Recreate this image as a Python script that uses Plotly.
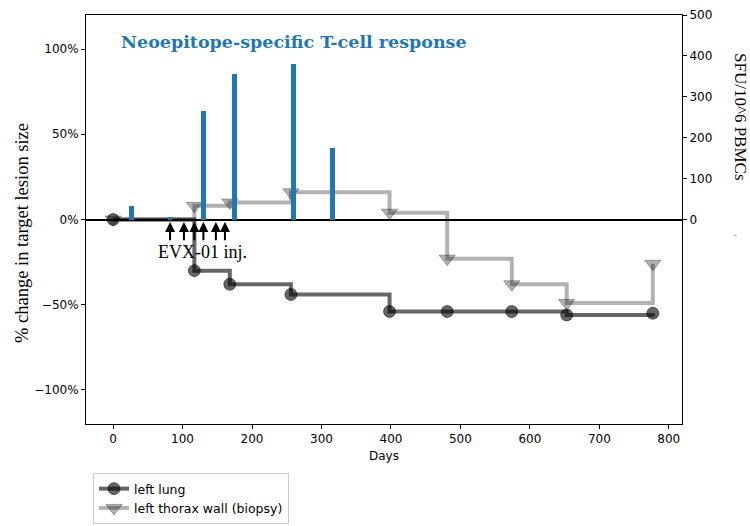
import plotly.graph_objects as go

# ---- data ----
days = [0, 117, 168, 256, 398, 481, 574, 653, 777]
left_lung = [0, -30, -38, -44, -54, -54, -54, -56, -55]
thorax_wall = [0, 8, 10, 16, 4, -23, -38, -49, -26]

sfu_days = [26, 82, 130, 175, 260, 316]
sfu_values = [34, 6, 266, 356, 380, 176]

injection_days = [82, 102, 117, 130, 148, 161]

left_ticks = [-100, -50, 0, 50, 100]
left_tick_labels = ["\u2212100%", "\u221250%", "0%", "50%", "100%"]
right_ticks = [0, 100, 200, 300, 400, 500]
x_ticks = [0, 100, 200, 300, 400, 500, 600, 700, 800]

W, H = 750, 526
L, R, T, B = 86, 68, 15, 102
PW, PH = W - L - R, H - B - T


def px(xpix):
    return (xpix - L) / PW


def py(ypix):
    return (H - B - ypix) / PH


fig = go.Figure()

fig.add_trace(go.Scatter(
    x=days, y=left_lung, name="left lung", mode="lines+markers",
    line=dict(shape="hv", color="rgba(0,0,0,0.6)", width=4),
    marker=dict(symbol="circle", size=12, color="rgba(0,0,0,0.6)",
                line=dict(color="rgba(0,0,0,0.5)", width=1)),
    yaxis="y"))
fig.add_trace(go.Scatter(
    x=days, y=thorax_wall, name="left thorax wall (biopsy)", mode="lines+markers",
    line=dict(shape="hv", color="rgba(0,0,0,0.3)", width=4),
    marker=dict(symbol="triangle-down", size=14, color="rgba(0,0,0,0.3)",
                line=dict(color="rgba(0,0,0,0.3)", width=1)),
    yaxis="y"))
fig.add_trace(go.Bar(
    x=sfu_days, y=sfu_values, width=7, marker=dict(color="#1f77b4", line=dict(width=0)),
    yaxis="y2", showlegend=False))

# injection arrows
for d in injection_days:
    fig.add_annotation(x=d, y=-1.5, ax=d, ay=-13, xref="x", yref="y",
                       axref="x", ayref="y", showarrow=True, arrowhead=2,
                       arrowsize=1, arrowwidth=2, arrowcolor="black", text="")
fig.add_annotation(x=129, y=-19, xref="x", yref="y", text="EVX-01 inj.",
                   xanchor="center", yanchor="middle", showarrow=False,
                   font=dict(family="Liberation Serif", size=18, color="black"))

# title-like label
fig.add_annotation(x=px(119), y=py(42), xref="paper", yref="paper",
                   xanchor="left", yanchor="middle", showarrow=False,
                   text="<b>Neoepitope-specific T-cell response</b>",
                   font=dict(family="DejaVu Serif", size=17.5, color="#1f77b4"))

# axis labels
fig.add_annotation(x=px(22), y=py(233), xref="paper", yref="paper",
                   xanchor="center", yanchor="middle",
                   showarrow=False, textangle=-90, text="% change in target lesion size",
                   font=dict(family="Liberation Serif", size=18.5, color="black"))
fig.add_annotation(x=px(741), y=py(117), xref="paper", yref="paper",
                   xanchor="center", yanchor="middle",
                   showarrow=False, textangle=90, text="SFU/10^6 PBMCs",
                   font=dict(family="Liberation Serif", size=17, color="black"))
fig.add_annotation(x=px(735), y=py(236), xref="paper", yref="paper",
                   xanchor="center", yanchor="middle",
                   showarrow=False, text="\"", font=dict(family="DejaVu Sans", size=6, color="#555"))

axis_font = dict(family="DejaVu Sans", size=12, color="black")

fig.update_layout(
    width=W, height=H,
    margin=dict(l=L, r=R, t=T, b=B, autoexpand=False),
    paper_bgcolor="white", plot_bgcolor="white",
    font=axis_font,
    bargap=0,
    xaxis=dict(range=[-39, 819], tickmode="array", tickvals=x_ticks,
               ticks="outside", ticklen=4, tickcolor="black",
               showline=True, linecolor="black", linewidth=1, mirror=True,
               showgrid=False, zeroline=False, tickfont=axis_font,
               title=dict(text="Days", font=axis_font, standoff=6)),
    yaxis=dict(range=[-120, 120], tickmode="array", tickvals=left_ticks,
               ticktext=left_tick_labels, ticks="outside", ticklen=4, tickcolor="black",
               showline=True, linecolor="black", linewidth=1, mirror=True,
               showgrid=False, zeroline=True, zerolinecolor="black", zerolinewidth=2,
               tickfont=axis_font),
    yaxis2=dict(range=[-500, 500], overlaying="y", side="right",
                tickmode="array", tickvals=right_ticks, ticks="outside", ticklen=4,
                tickcolor="black", showline=True, linecolor="black", linewidth=1,
                showgrid=False, zeroline=False, tickfont=axis_font),
    legend=dict(x=px(93), y=py(473),
                xanchor="left", yanchor="top", bordercolor="#cccccc", borderwidth=1,
                bgcolor="white", font=dict(family="DejaVu Sans", size=12.5, color="black"),
                tracegroupgap=0),
    showlegend=True,
)

fig.write_html("out.html")
